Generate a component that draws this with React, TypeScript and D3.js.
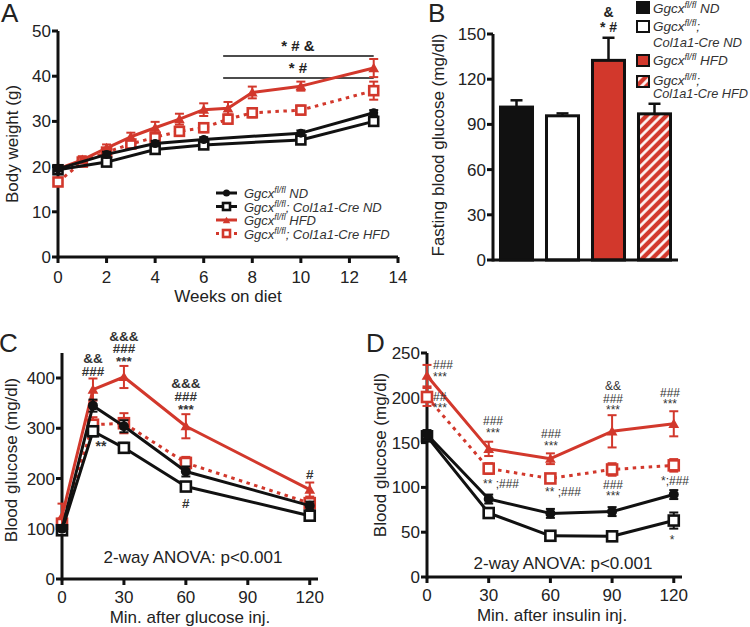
import React from 'react';
import * as d3 from 'd3';

const RED = '#d2382c';
const BLK = '#111111';
const TXT = '#222222';
const FONT = '"Liberation Sans", Arial, Helvetica, sans-serif';

// ---------- Panel A: body weight ----------
const weeksND = [0, 2, 4, 6, 10, 13];
const ndWeight = [19.5, 22.7, 25.1, 26.0, 27.4, 31.9];
const ndWeightErr = [0.5, 0.6, 0.6, 0.5, 0.6, 0.6];
const creNdWeight = [19.3, 21.0, 23.8, 24.8, 25.9, 30.0];
const creNdWeightErr = [0.5, 0.6, 0.6, 0.5, 0.6, 0.6];
const weeksHFD = [0, 1, 2, 3, 4, 5, 6, 7, 8, 10, 13];
const hfdWeight = [19.5, 21.5, 24.1, 26.6, 28.6, 30.5, 32.6, 32.9, 36.4, 37.8, 41.8];
const hfdWeightErr = [0.5, 0.8, 0.8, 0.9, 1.3, 1.2, 1.4, 1.4, 1.3, 1.0, 2.0];
const creHfdWeight = [16.6, 21.0, 23.2, 25.0, 26.5, 27.8, 28.6, 30.5, 31.9, 32.5, 36.8];
const creHfdWeightErr = [0.8, 0.8, 0.8, 0.9, 1.0, 1.0, 1.0, 1.0, 1.0, 1.0, 2.0];
const weekTicks = [0, 2, 4, 6, 8, 10, 12, 14];
const weightTicks = [0, 10, 20, 30, 40, 50];

// ---------- Panel B: fasting glucose ----------
const groups = ['ND', 'CreND', 'HFD', 'CreHFD'];
const fastingGlucose = [101.5, 95.7, 132.5, 97.0];
const fastingGlucoseErr = [4.5, 1.6, 15.0, 6.7];
const fastingTicks = [0, 30, 60, 90, 120, 150];

// ---------- Panel C: GTT ----------
const gttTimes = [0, 15, 30, 60, 120];
const gttND = [100, 345, 304, 214, 146];
const gttNDErr = [5, 12, 12, 10, 8];
const gttCreND = [97, 294, 261, 184, 126];
const gttCreNDErr = [5, 10, 10, 8, 6];
const gttHFD = [125, 377, 402, 304, 178];
const gttHFDErr = [25, 22, 22, 24, 14];
const gttCreHFD = [110, 307, 310, 231, 151];
const gttCreHFDErr = [10, 15, 20, 12, 10];
const gttTicksX = [0, 30, 60, 90, 120];
const gttTicksY = [0, 100, 200, 300, 400];

// ---------- Panel D: ITT ----------
const ittTimes = [0, 30, 60, 90, 120];
const ittND = [159, 87, 71, 73, 92];
const ittNDErr = [5, 5, 5, 5, 5];
const ittCreND = [157, 71.4, 46, 45.4, 63];
const ittCreNDErr = [4, 4, 4, 3, 9];
const ittHFD = [224.7, 143, 132, 162.6, 171];
const ittHFDErr = [12, 8, 6, 18, 14];
const ittCreHFD = [200.9, 121, 110, 120, 124.6];
const ittCreHFDErr = [10, 6, 5, 7, 7];
const ittTicksX = [0, 30, 60, 90, 120];
const ittTicksY = [0, 50, 100, 150, 200, 250];

type Marker = 'circle' | 'square' | 'triangle';

function MarkerShape({ cx, cy, type, color, size }: { cx: number; cy: number; type: Marker; color: string; size: number }) {
  if (type === 'circle') return <circle cx={cx} cy={cy} r={size * 0.5} fill={color} />;
  if (type === 'square')
    return <rect x={cx - size / 2} y={cy - size / 2} width={size} height={size} fill="white" stroke={color} strokeWidth={2.6} />;
  const sym = d3.symbol(d3.symbolTriangle, size * size * 0.5)();
  return <path d={sym || ''} transform={`translate(${cx},${cy + 1})`} fill={color} />;
}

function Series({ xs, ys, errs, x, y, color, dashed, marker, size, capW = 9, lw = 3 }: any) {
  const pts = xs.map((v: number, i: number) => [x(v), y(ys[i])] as [number, number]);
  const line = d3.line()(pts) || '';
  return (
    <g>
      {xs.map((v: number, i: number) => (
        <g key={'e' + i} stroke={color} strokeWidth={2}>
          <line x1={x(v)} x2={x(v)} y1={y(ys[i] - errs[i])} y2={y(ys[i] + errs[i])} />
          <line x1={x(v) - capW / 2} x2={x(v) + capW / 2} y1={y(ys[i] + errs[i])} y2={y(ys[i] + errs[i])} />
          <line x1={x(v) - capW / 2} x2={x(v) + capW / 2} y1={y(ys[i] - errs[i])} y2={y(ys[i] - errs[i])} />
        </g>
      ))}
      <path d={line} fill="none" stroke={color} strokeWidth={lw} strokeDasharray={dashed ? '3.5 4.5' : undefined} strokeLinejoin="round" />
      {pts.map((p: [number, number], i: number) => (
        <MarkerShape key={i} cx={p[0]} cy={p[1]} type={marker} color={color} size={size} />
      ))}
    </g>
  );
}

function Axes({ x, y, xTicks, yTicks, x0, y0, xEnd, yTop, fs = 17, tickLen = 6, xLabelY }: any) {
  return (
    <g>
      <line x1={x0} x2={xEnd} y1={y0} y2={y0} stroke={BLK} strokeWidth={3} />
      <line x1={x0} x2={x0} y1={y0 + 1.5} y2={yTop} stroke={BLK} strokeWidth={3} />
      {xTicks.map((t: number) => (
        <g key={'x' + t}>
          <line x1={x(t)} x2={x(t)} y1={y0} y2={y0 + tickLen} stroke={BLK} strokeWidth={3} />
          <text x={x(t)} y={xLabelY} textAnchor="middle" fontSize={fs} fill={TXT}>{t}</text>
        </g>
      ))}
      {yTicks.map((t: number) => (
        <g key={'y' + t}>
          <line x1={x0} x2={x0 - tickLen} y1={y(t)} y2={y(t)} stroke={BLK} strokeWidth={3} />
          <text x={x0 - tickLen - 1} y={y(t) + 6} textAnchor="end" fontSize={fs} fill={TXT}>{t}</text>
        </g>
      ))}
    </g>
  );
}

function Gg({ rest, fs }: { rest: string; fs: number }) {
  return (
    <>
      <tspan>Ggcx</tspan>
      <tspan fontSize={fs * 0.68} dy={-fs * 0.38}>fl/fl</tspan>
      <tspan dy={fs * 0.38}>{rest}</tspan>
    </>
  );
}

export default function App() {
  const xA = d3.scaleLinear().domain([0, 14]).range([58, 398]);
  const yA = d3.scaleLinear().domain([0, 50]).range([257, 31]);
  const xB = d3.scaleBand<string>().domain(groups).range([493, 678]).paddingInner(0.304).paddingOuter(0.163);
  const yB = d3.scaleLinear().domain([0, 150]).range([260, 34]);
  const xC = d3.scaleLinear().domain([0, 124]).range([62, 318]);
  const yC = d3.scaleLinear().domain([0, 400]).range([579, 378]);
  const xD = d3.scaleLinear().domain([0, 124]).range([427, 682]);
  const yD = d3.scaleLinear().domain([0, 250]).range([577, 353]);

  const barFill = ['#111111', '#ffffff', RED, 'url(#hatch)'];
  const legA = [
    { rest: ' ND', color: BLK, marker: 'circle' as Marker, dashed: false },
    { rest: '; Col1a1-Cre ND', color: BLK, marker: 'square' as Marker, dashed: false },
    { rest: ' HFD', color: RED, marker: 'triangle' as Marker, dashed: false },
    { rest: '; Col1a1-Cre HFD', color: RED, marker: 'square' as Marker, dashed: true },
  ];
  const annC = [
    { t: 15, lines: ['&&', '###'], ys: [363, 376] },
    { t: 30, lines: ['&&&', '###', '***'], ys: [341, 353, 366] },
    { t: 60, lines: ['&&&', '###', '***'], ys: [388, 401, 414] },
    { t: 120, lines: ['#'], ys: [479] },
    { t: 60, lines: ['#'], ys: [508] },
  ];
  const annD = [
    { x: 433, anchor: 'start', lines: ['###', '***'], ys: [369, 381] },
    { x: 433, anchor: 'start', lines: ['##', '***'], ys: [401, 412] },
    { x: 493, anchor: 'middle', lines: ['###', '***'], ys: [425, 437] },
    { x: 551, anchor: 'middle', lines: ['###', '***'], ys: [438, 450] },
    { x: 613, anchor: 'middle', lines: ['&&', '###', '***'], ys: [390, 403, 414] },
    { x: 670, anchor: 'middle', lines: ['###', '***'], ys: [397, 408] },
    { x: 501, anchor: 'middle', lines: ['** ;###'], ys: [488] },
    { x: 563, anchor: 'middle', lines: ['** ;###'], ys: [496] },
    { x: 613, anchor: 'middle', lines: ['###', '***'], ys: [489, 500] },
    { x: 675, anchor: 'middle', lines: ['*;###'], ys: [485] },
    { x: 672, anchor: 'middle', lines: ['*'], ys: [544] },
  ];

  return (
    <svg width={750} height={627} style={{ position: 'absolute', left: 0, top: 0, background: 'white' }} fontFamily={FONT}>
      <defs>
        <pattern id="hatch" patternUnits="userSpaceOnUse" width={7} height={7} patternTransform="rotate(45)">
          <rect width={7} height={7} fill={RED} />
          <line x1={3.5} x2={3.5} y1={0} y2={7} stroke="white" strokeWidth={2.6} />
        </pattern>
      </defs>

      {/* ===== Panel A ===== */}
      <text x={1} y={22} fontSize={26} fill={TXT}>A</text>
      <Axes x={xA} y={yA} xTicks={weekTicks} yTicks={weightTicks} x0={58} y0={257} xEnd={398} yTop={31} xLabelY={283} />
      <text x={228} y={302} textAnchor="middle" fontSize={17} fill={TXT}>Weeks on diet</text>
      <text transform="translate(18,144) rotate(-90)" textAnchor="middle" fontSize={17} fill={TXT}>Body weight (g)</text>
      <line x1={xA(6.8)} x2={xA(13)} y1={56} y2={56} stroke={BLK} strokeWidth={1.3} />
      <line x1={xA(6.8)} x2={xA(13)} y1={78} y2={78} stroke={BLK} strokeWidth={1.3} />
      <text x={298} y={51} textAnchor="middle" fontSize={15} fontWeight="bold" fill={TXT}>* # &amp;</text>
      <text x={298} y={73} textAnchor="middle" fontSize={15} fontWeight="bold" fill={TXT}>* #</text>
      <Series xs={weeksHFD} ys={creHfdWeight} errs={creHfdWeightErr} x={xA} y={yA} color={RED} dashed marker="square" size={9} />
      <Series xs={weeksHFD} ys={hfdWeight} errs={hfdWeightErr} x={xA} y={yA} color={RED} marker="triangle" size={10} />
      <Series xs={weeksND} ys={creNdWeight} errs={creNdWeightErr} x={xA} y={yA} color={BLK} marker="square" size={9} />
      <Series xs={weeksND} ys={ndWeight} errs={ndWeightErr} x={xA} y={yA} color={BLK} marker="circle" size={9} />
      {legA.map((l, i) => {
        const cy = 193 + i * 13.5;
        return (
          <g key={i}>
            <line x1={216} x2={237} y1={cy} y2={cy} stroke={l.color} strokeWidth={3} strokeDasharray={l.dashed ? '3 3' : undefined} />
            <MarkerShape cx={226.5} cy={cy} type={l.marker} color={l.color} size={7} />
            <text x={244} y={cy + 5} fontSize={13} fontStyle="italic" fill="#333">
              <Gg rest={l.rest} fs={13} />
            </text>
          </g>
        );
      })}

      {/* ===== Panel B ===== */}
      <text x={428} y={22} fontSize={26} fill={TXT}>B</text>
      {groups.map((g, i) => {
        const bx = xB(g) as number;
        const bw = xB.bandwidth();
        const cx = bx + bw / 2;
        return (
          <g key={g}>
            <line x1={cx} x2={cx} y1={yB(fastingGlucose[i])} y2={yB(fastingGlucose[i] + fastingGlucoseErr[i])} stroke={BLK} strokeWidth={2.5} />
            <line x1={cx - 6} x2={cx + 6} y1={yB(fastingGlucose[i] + fastingGlucoseErr[i])} y2={yB(fastingGlucose[i] + fastingGlucoseErr[i])} stroke={BLK} strokeWidth={2.5} />
            <rect x={bx} y={yB(fastingGlucose[i])} width={bw} height={yB(0) - yB(fastingGlucose[i])} fill={barFill[i]} stroke={BLK} strokeWidth={3} />
          </g>
        );
      })}
      <Axes x={(v: number) => v} y={yB} xTicks={[]} yTicks={fastingTicks} x0={493} y0={260} xEnd={678} yTop={34} />
      <text transform="translate(444,145) rotate(-90)" textAnchor="middle" fontSize={17} fill={TXT}>Fasting blood glucose (mg/dl)</text>
      <text x={(xB('HFD') as number) + xB.bandwidth() / 2} y={17} textAnchor="middle" fontSize={14} fontWeight="bold" fill={TXT}>&amp;</text>
      <text x={(xB('HFD') as number) + xB.bandwidth() / 2} y={32} textAnchor="middle" fontSize={14} fontWeight="bold" fill={TXT}>* #</text>
      {/* legend B */}
      <g fontSize={13.5} fontStyle="italic" fill="#333">
        <rect x={637} y={2} width={12} height={11} fill="#111" stroke={BLK} strokeWidth={2} />
        <text x={653} y={13}><Gg rest=" ND" fs={13.5} /></text>
        <rect x={637} y={21} width={12} height={11} fill="white" stroke={BLK} strokeWidth={2} />
        <text x={653} y={31}><Gg rest=";" fs={13.5} /></text>
        <text x={653} y={47} textLength={89} lengthAdjust="spacingAndGlyphs">Col1a1-Cre ND</text>
        <rect x={637} y={55} width={12} height={11} fill={RED} stroke={BLK} strokeWidth={2} />
        <text x={653} y={65}><Gg rest=" HFD" fs={13.5} /></text>
        <rect x={637} y={76} width={12} height={11} fill="url(#hatch)" stroke={BLK} strokeWidth={2} />
        <text x={653} y={85}><Gg rest=";" fs={13.5} /></text>
        <text x={653} y={97.5} textLength={95} lengthAdjust="spacingAndGlyphs">Col1a1-Cre HFD</text>
      </g>

      {/* ===== Panel C ===== */}
      <text x={-1} y={352} fontSize={26} fill={TXT}>C</text>
      <Axes x={xC} y={yC} xTicks={gttTicksX} yTicks={gttTicksY} x0={62} y0={579} xEnd={318} yTop={353} xLabelY={603} />
      <text x={190} y={623} textAnchor="middle" fontSize={17} fill={TXT}>Min. after glucose inj.</text>
      <text transform="translate(17,460) rotate(-90)" textAnchor="middle" fontSize={17} fill={TXT}>Blood glucose (mg/dl)</text>
      <text x={193} y={563} textAnchor="middle" fontSize={17} fill={TXT}>2-way ANOVA: p&lt;0.001</text>
      <Series xs={gttTimes} ys={gttCreHFD} errs={gttCreHFDErr} x={xC} y={yC} color={RED} dashed marker="square" size={10} />
      <Series xs={gttTimes} ys={gttHFD} errs={gttHFDErr} x={xC} y={yC} color={RED} marker="triangle" size={10} />
      <Series xs={gttTimes} ys={gttCreND} errs={gttCreNDErr} x={xC} y={yC} color={BLK} marker="square" size={10} />
      <Series xs={gttTimes} ys={gttND} errs={gttNDErr} x={xC} y={yC} color={BLK} marker="circle" size={10} />
      {annC.map((a, i) => (
        <g key={i}>
          {a.lines.map((s, j) => (
            <text key={j} x={xC(a.t)} y={a.ys[j]} textAnchor="middle" fontSize={13.5} fontWeight="bold" fill="#333">{s}</text>
          ))}
        </g>
      ))}
      <text x={101} y={451} textAnchor="middle" fontSize={14} fontWeight="bold" fill="#333">**</text>

      {/* ===== Panel D ===== */}
      <text x={366} y={352} fontSize={26} fill={TXT}>D</text>
      <Axes x={xD} y={yD} xTicks={ittTicksX} yTicks={ittTicksY} x0={427} y0={577} xEnd={682} yTop={353} xLabelY={601} />
      <text x={552} y={621} textAnchor="middle" fontSize={17} fill={TXT}>Min. after insulin inj.</text>
      <text transform="translate(386,455) rotate(-90)" textAnchor="middle" fontSize={17} fill={TXT}>Blood glucose (mg/dl)</text>
      <text x={563} y={569} textAnchor="middle" fontSize={17} fill={TXT}>2-way ANOVA: p&lt;0.001</text>
      <Series xs={ittTimes} ys={ittCreHFD} errs={ittCreHFDErr} x={xD} y={yD} color={RED} dashed marker="square" size={10} />
      <Series xs={ittTimes} ys={ittHFD} errs={ittHFDErr} x={xD} y={yD} color={RED} marker="triangle" size={10} />
      <Series xs={ittTimes} ys={ittCreND} errs={ittCreNDErr} x={xD} y={yD} color={BLK} marker="square" size={10} />
      <Series xs={ittTimes} ys={ittND} errs={ittNDErr} x={xD} y={yD} color={BLK} marker="circle" size={10} />
      {annD.map((a, i) => (
        <g key={i}>
          {a.lines.map((s, j) => (
            <text key={j} x={a.x} y={a.ys[j]} textAnchor={a.anchor as any} fontSize={12} fill="#333">{s}</text>
          ))}
        </g>
      ))}
    </svg>
  );
}
